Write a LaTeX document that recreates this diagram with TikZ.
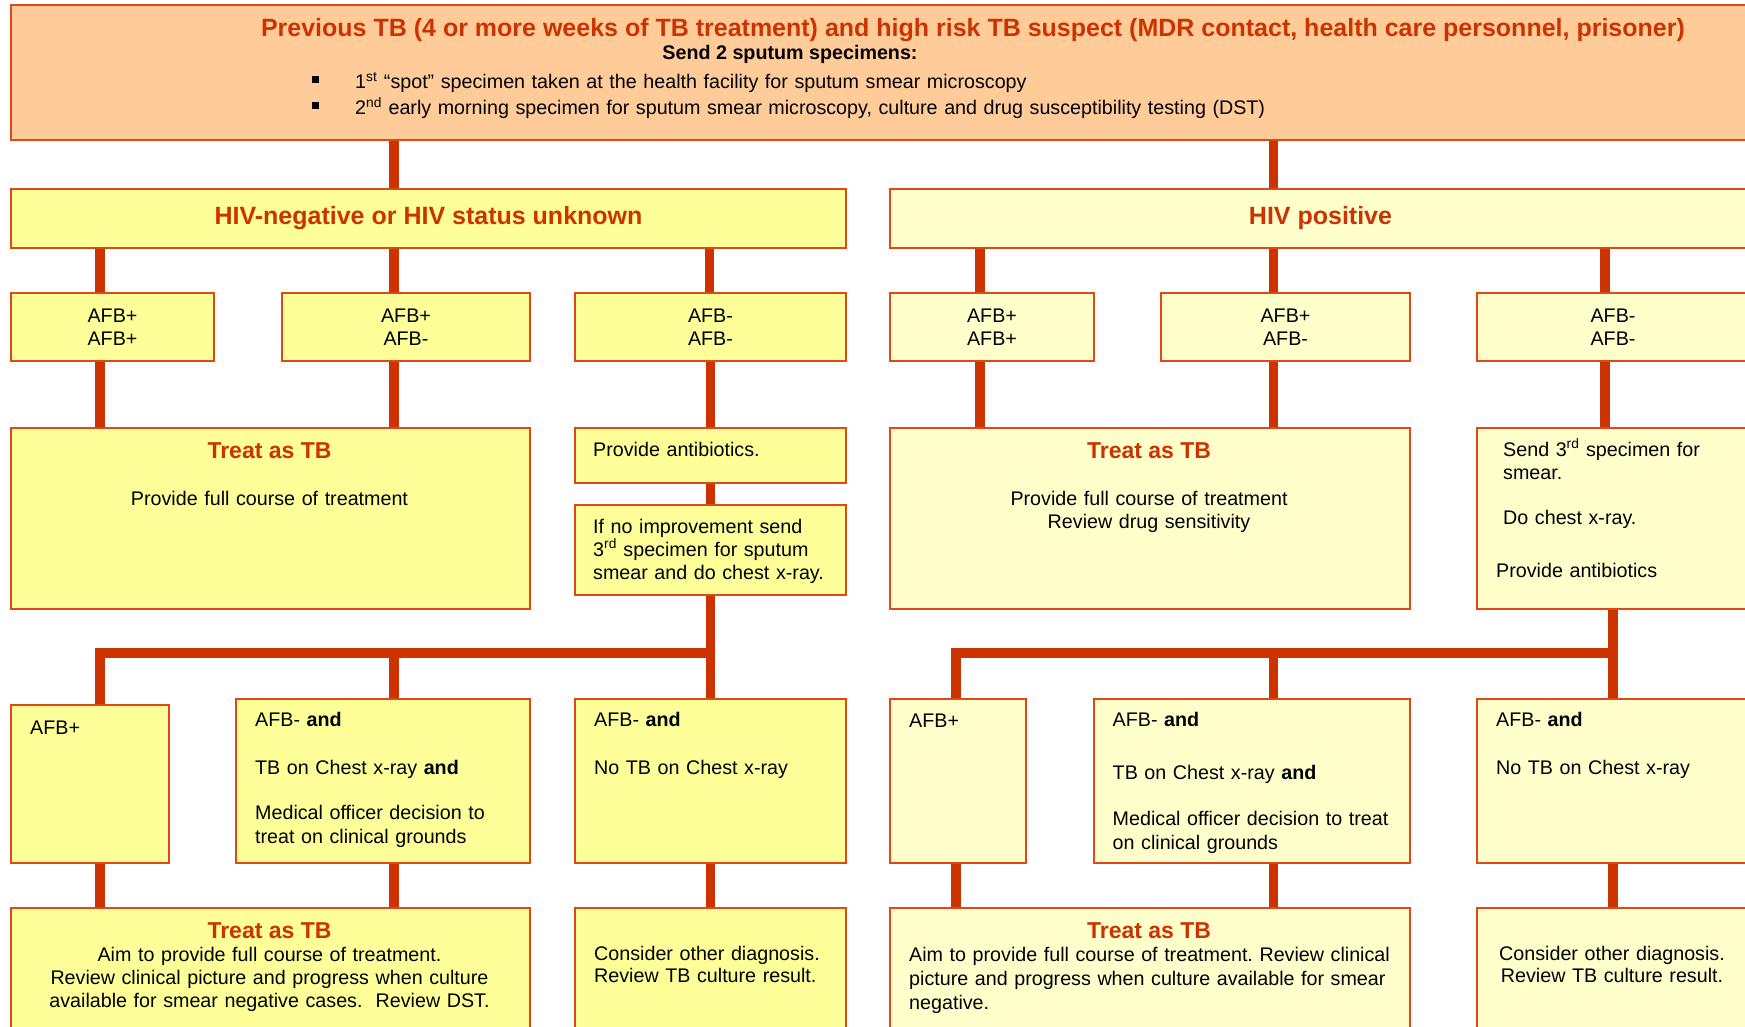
\documentclass[tikz,border=0pt]{standalone}
\usepackage{fontspec}
\setmainfont{Liberation Sans}
\frenchspacing
\definecolor{peach}{RGB}{255,204,153}
\definecolor{negfill}{RGB}{255,255,153}
\definecolor{posfill}{RGB}{255,255,204}
\definecolor{boxline}{RGB}{224,72,24}
\definecolor{linkred}{RGB}{204,51,0}
\newcommand{\bodysize}{\fontsize{19.7}{23}\selectfont}
\newcommand{\headsize}{\fontsize{25}{29}\selectfont\bfseries}
\newcommand{\treatsize}{\fontsize{23}{27}\selectfont\bfseries}
\newcommand{\sqbullet}{\makebox[43.5pt][l]{\rule[5.5pt]{7pt}{7pt}}}

\begin{document}
\begin{tikzpicture}[x=1pt, y=-1pt,
    box/.style={draw=boxline, line width=2pt, anchor=north west, inner sep=0pt, font=\bodysize, align=center},
    negbox/.style={box, fill=negfill},
    posbox/.style={box, fill=posfill},
    wh/.style 2 args={minimum width=#1pt, minimum height=#2pt},
    link/.style={draw=linkred, line width=9.5pt},
    txt/.style={inner sep=0pt, font=\bodysize, text width=#1, align=left, anchor=base west},
    txt/.default=250pt,
    ctxt/.style={inner sep=0pt, font=\bodysize, text width=#1, align=center, anchor=base},
    ctxt/.default=500pt,
    head/.style={inner sep=0pt, text=linkred, font=\treatsize, anchor=base}]
  \fill[white] (0,0) rectangle (1745,1027);
  \useasboundingbox (0,0) rectangle (1745,1027);

  % top box
  \node[box, fill=peach, wh={1930}{135}] (prev) at (10,4) {};
  \node[head, font=\fontsize{25}{29}\selectfont\bfseries] (prevtitle) at (973,37) {Previous TB (4 or more weeks of TB treatment) and high risk TB suspect (MDR contact, health care personnel, prisoner)};
  \node[inner sep=0pt, font=\bodysize\bfseries, anchor=base] (sendtwo) at (790,60) {Send 2 sputum specimens:};
  \node[txt=1300pt] (spotline) at (311.5,89) {\sqbullet 1\textsuperscript{st} “spot” specimen taken at the health facility for sputum smear microscopy};
  \node[txt=1300pt] (morningline) at (311.5,115) {\sqbullet 2\textsuperscript{nd} early morning specimen for sputum smear microscopy, culture and drug susceptibility testing (DST)};

  % HIV status
  \node[negbox, wh={835}{59}, font=\headsize, text=linkred] (hivneg) at (10,188) {HIV-negative or HIV status unknown};
  \node[posbox, wh={861}{59}, font=\headsize, text=linkred] (hivpos) at (889,188) {HIV positive};

  % smear results
  \node[negbox, wh={203}{68}] (negPP) at (10,292) {AFB+\\AFB+};
  \node[negbox, wh={248}{68}] (negPN) at (281,292) {AFB+\\AFB-};
  \node[negbox, wh={271}{68}] (negNN) at (574,292) {AFB-\\AFB-};
  \node[posbox, wh={204}{68}] (posPP) at (889,292) {AFB+\\AFB+};
  \node[posbox, wh={249}{68}] (posPN) at (1160,292) {AFB+\\AFB-};
  \node[posbox, wh={272}{68}] (posNN) at (1476,292) {AFB-\\AFB-};

  % first actions
  \node[negbox, wh={519}{181}] (negTreat) at (10,427) {};
  \node[head] (negTreatHead) at (269.5,458) {Treat as TB};
  \node[ctxt] (negTreatText) at (269.5,505) {Provide full course of treatment};
  \node[negbox, wh={271}{55}] (negAnti) at (574,427) {};
  \node[txt] (negAntiText) at (593,456) {Provide antibiotics.};
  \node[negbox, wh={271}{90}] (negImprove) at (574,504) {};
  \node[txt] (negImproveText) at (593,533) {If no improvement send\\3\textsuperscript{rd} specimen for sputum\\smear and do chest x-ray.};
  \node[posbox, wh={520}{181}] (posTreat) at (889,427) {};
  \node[head] (posTreatHead) at (1149,458) {Treat as TB};
  \node[ctxt] (posTreatText) at (1149,505) {Provide full course of treatment\\Review drug sensitivity};
  \node[posbox, wh={272}{181}] (posSend) at (1476,427) {};
  \node[txt] (posSendText) at (1503,456) {Send 3\textsuperscript{rd} specimen for\\smear.\\[22pt]Do chest x-ray.\\[30pt]\hspace*{-7pt}Provide antibiotics};

  % follow-up results
  \node[negbox, wh={158}{158}] (negAFB) at (10,704) {};
  \node[txt] (negAFBText) at (30,734) {AFB+};
  \node[negbox, wh={294}{164}] (negCXR) at (235,698) {};
  \node[txt=280pt] (negCXRText) at (255,726) {AFB- \textbf{and}\\[25pt]TB on Chest x-ray \textbf{and}\\[22pt]Medical officer decision to\\[1pt]treat on clinical grounds};
  \node[negbox, wh={271}{164}] (negNoTB) at (574,698) {};
  \node[txt] (negNoTBText) at (594,726) {AFB- \textbf{and}\\[25pt]No TB on Chest x-ray};
  \node[posbox, wh={136}{164}] (posAFB) at (889,698) {};
  \node[txt] (posAFBText) at (909,727) {AFB+};
  \node[posbox, wh={316}{164}] (posCXR) at (1093,698) {};
  \node[txt=300pt] (posCXRText) at (1112.5,726) {AFB- \textbf{and}\\[30pt]TB on Chest x-ray \textbf{and}\\[23pt]Medical officer decision to treat\\[1pt]on clinical grounds};
  \node[posbox, wh={272}{164}] (posNoTB) at (1476,698) {};
  \node[txt] (posNoTBText) at (1496,726) {AFB- \textbf{and}\\[25pt]No TB on Chest x-ray};

  % outcomes
  \node[negbox, wh={519}{140}] (negTreat2) at (10,907) {};
  \node[head] (negTreat2Head) at (269.5,938) {Treat as TB};
  \node[ctxt] (negTreat2Text) at (269.5,961) {Aim to provide full course of treatment.\\Review clinical picture and progress when culture\\available for smear negative cases.\ \ Review DST.};
  \node[negbox, wh={271}{140}] (negOther) at (574,907) {};
  \node[txt] (negOtherText) at (594,960) {Consider other diagnosis.\\[-1pt]Review TB culture result.};
  \node[posbox, wh={520}{140}] (posTreat2) at (889,907) {};
  \node[head] (posTreat2Head) at (1149,938) {Treat as TB};
  \node[txt=495pt] (posTreat2Text) at (909,961) {Aim to provide full course of treatment. Review clinical\\[1pt]picture and progress when culture available for smear\\[1pt]negative.};
  \node[posbox, wh={272}{140}] (posOther) at (1476,907) {};
  \node[ctxt=260pt] (posOtherText) at (1612,960) {Consider other diagnosis.\\[-1pt]Review TB culture result.};

  % connector lanes
  \coordinate (laneA) at (100,0);
  \coordinate (laneB) at (394,0);
  \coordinate (laneC) at (709.5,0);
  \coordinate (laneD) at (980,0);
  \coordinate (laneE) at (1273.5,0);
  \coordinate (laneF) at (1605,0);
  \coordinate (laneG) at (956,0);
  \coordinate (barrow) at (0,653);

  \draw[link] (prev.south -| laneB) -- (hivneg.north -| laneB);
  \draw[link] (prev.south -| laneE) -- (hivpos.north -| laneE);
  \draw[link] (hivneg.south -| laneA) -- (negPP.north -| laneA);
  \draw[link] (hivneg.south -| laneB) -- (negPN.north -| laneB);
  \draw[link] (hivneg.south -| laneC) -- (negNN.north -| laneC);
  \draw[link] (negPP.south -| laneA) -- (negTreat.north -| laneA);
  \draw[link] (negPN.south -| laneB) -- (negTreat.north -| laneB);
  \draw[link] (negNN.south) -- (negAnti.north);
  \draw[link] (negAnti.south) -- (negImprove.north);
  \draw[link] (negImprove.south) -- (negNoTB.north);
  \draw[link, line join=miter] (negAFB.north -| laneA) -- (barrow -| laneA) -- (barrow -| laneC);
  \draw[link] (barrow -| laneB) -- (negCXR.north -| laneB);
  \draw[link] (negAFB.south -| laneA) -- (negTreat2.north -| laneA);
  \draw[link] (negCXR.south -| laneB) -- (negTreat2.north -| laneB);
  \draw[link] (negNoTB.south) -- (negOther.north);

  \draw[link] (hivpos.south -| laneD) -- (posPP.north -| laneD);
  \draw[link] (hivpos.south -| laneE) -- (posPN.north -| laneE);
  \draw[link] (hivpos.south -| laneF) -- (posNN.north -| laneF);
  \draw[link] (posPP.south -| laneD) -- (posTreat.north -| laneD);
  \draw[link] (posPN.south -| laneE) -- (posTreat.north -| laneE);
  \draw[link] (posNN.south -| laneF) -- (posSend.north -| laneF);
  \draw[link] (posSend.south) -- (posNoTB.north);
  \draw[link, line join=miter] (posAFB.north -| laneG) -- (barrow -| laneG) -- (barrow -| posSend.south);
  \draw[link] (barrow -| laneE) -- (posCXR.north -| laneE);
  \draw[link] (posAFB.south -| laneG) -- (posTreat2.north -| laneG);
  \draw[link] (posCXR.south -| laneE) -- (posTreat2.north -| laneE);
  \draw[link] (posNoTB.south) -- (posOther.north);
\end{tikzpicture}
\end{document}
